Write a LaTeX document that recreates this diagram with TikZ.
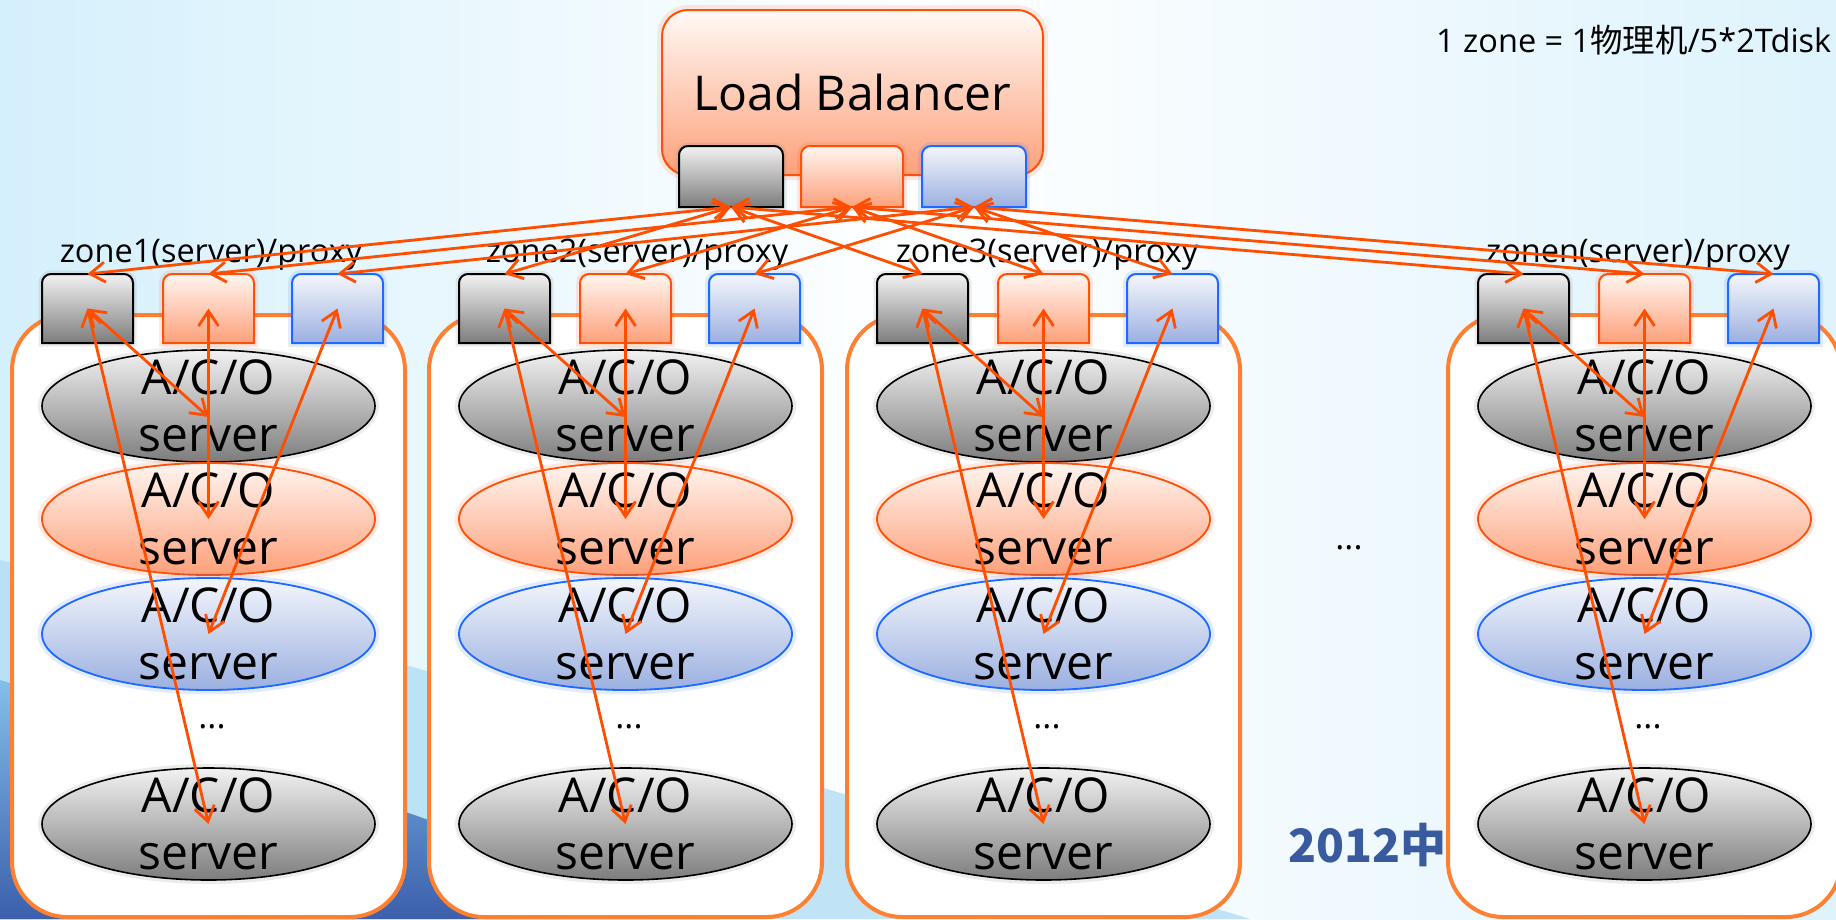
\documentclass[tikz,border=0pt]{standalone}
\usepackage{fontspec}
\setmainfont{Open Sans}
\newfontfamily\cjk{Noto Sans CJK SC}
\usetikzlibrary{arrows.meta,shapes.geometric}
\definecolor{cArrow}{RGB}{255,78,0}
\definecolor{cZone}{RGB}{255,128,48}
\definecolor{cGrayTop}{RGB}{242,242,242}
\definecolor{cGrayBot}{RGB}{125,125,125}
\definecolor{cOrTop}{RGB}{255,245,240}
\definecolor{cOrBot}{RGB}{253,160,122}
\definecolor{cOrLine}{RGB}{255,80,10}
\definecolor{cBlTop}{RGB}{244,246,252}
\definecolor{cBlBot}{RGB}{155,176,224}
\definecolor{cBlLine}{RGB}{30,105,255}
\definecolor{cBgL}{RGB}{212,240,252}
\definecolor{cBgR}{RGB}{222,243,252}
\definecolor{cWaveB}{RGB}{178,222,244}
\definecolor{cWaveA1}{RGB}{130,192,232}
\definecolor{cWaveA2}{RGB}{60,95,172}
\definecolor{cMark}{RGB}{58,90,160}

\newcommand{\mkport}[6]{%
  \node[portnode, minimum width=#4pt, minimum height=#5pt] (#1) at (#2,#3) {};
  \path[#6] ([yshift=-9pt]#1.north west) arc[start angle=180,end angle=90,radius=9pt]
    -- ([xshift=-9pt]#1.north east) arc[start angle=90,end angle=0,radius=9pt]
    -- (#1.south east) -- (#1.south west) -- cycle;
}

\tikzset{
  portnode/.style={rectangle, draw=none, inner sep=0pt, outer sep=0pt},
  pgray/.style={draw=black, line width=2pt, top color=cGrayTop, bottom color=cGrayBot,
    preaction={draw=gray, opacity=0.15, line width=7pt}},
  porange/.style={draw=cOrLine, line width=2pt, top color=cOrTop, bottom color=cOrBot,
    preaction={draw=cOrLine, opacity=0.12, line width=8pt}},
  pblue/.style={draw=cBlLine, line width=2pt, top color=cBlTop, bottom color=cBlBot,
    preaction={draw=cBlLine, opacity=0.12, line width=8pt}},
  ell/.style={ellipse, minimum width=333pt, minimum height=112pt, inner sep=0pt, outer sep=0pt},
  egray/.style={ell, draw=black, line width=1.6pt, top color=cGrayTop, bottom color=cGrayBot,
    preaction={draw=gray, opacity=0.15, line width=8pt}},
  eorange/.style={ell, draw=cOrLine, line width=1.8pt, top color=cOrTop, bottom color=cOrBot,
    preaction={draw=cOrLine, opacity=0.12, line width=9pt}},
  eblue/.style={ell, draw=cBlLine, line width=1.8pt, top color=cBlTop, bottom color=cBlBot,
    preaction={draw=cBlLine, opacity=0.12, line width=9pt}},
  acot/.style={font=\fontsize{48}{57}\selectfont, align=center, inner sep=0pt},
  zlabel/.style={font=\fontsize{32.5}{36}\selectfont, anchor=base, inner sep=0pt},
  zonebox/.style={rectangle, draw=cZone, line width=4pt, fill=white, rounded corners=55pt,
    minimum width=393pt, minimum height=602pt, inner sep=0pt},
  lbbox/.style={rectangle, draw=cOrLine, line width=2pt, top color=cOrTop!60!white,
    bottom color=cOrBot, rounded corners=26pt, minimum width=381pt, minimum height=165pt,
    font=\fontsize{48}{57}\selectfont, preaction={draw=cOrLine, opacity=0.12, line width=10pt}},
  conn/.style={draw=cArrow, line width=2.8pt, >={Straight Barb[length=15pt,width=20pt]}, <->},
  dots/.style={font=\fontsize{34}{40}\selectfont, inner sep=0pt}
}

\begin{document}
\begin{tikzpicture}[x=1pt,y=1pt]
\useasboundingbox (0,0) rectangle (1836,-919);
% background
\fill[left color=cBgL, right color=cBgR, middle color=white] (0,0) rectangle (1836,-919);
\fill[cWaveB, opacity=0.8] (0,-560) .. controls (350,-640) and (800,-780) .. (1250,-919) -- (0,-919) -- cycle;
\shade[top color=cWaveA1, bottom color=cWaveA2] (0,-680) .. controls (250,-750) and (500,-850) .. (720,-919) -- (0,-919) -- cycle;
\node[anchor=base west, inner sep=0pt, text=cMark, font=\cjk\bfseries\fontsize{46}{50}\selectfont] (mark) at (1288,-862) {2012中国};

% zones
\foreach \dx/\zz/\lx in {0/1/211,417/2/220,835/3/212,1436/n/202}{
  \node[zonebox] (zb\zz) at (208.5+\dx,-616) {};
  \node[egray] (z\zz e1) at (208.5+\dx,-406) {};
  \node[eorange] (z\zz e2) at (208.5+\dx,-519) {};
  \node[eblue] (z\zz e3) at (208.5+\dx,-634) {};
  \node[egray] (z\zz e4) at (208.5+\dx,-824) {};
  \foreach \k in {1,2,3,4}{\node[acot] (z\zz t\k) at (z\zz e\k.center) {A/C/O\\server};}
  \node[dots] (z\zz d) at (212+\dx,-727) {...};
  \mkport{z\zz g}{87.5+\dx}{-308.5}{91}{69}{pgray}
  \mkport{z\zz o}{208.5+\dx}{-308.5}{91}{69}{porange}
  \mkport{z\zz b}{337.5+\dx}{-308.5}{91}{69}{pblue}
  \node[zlabel] (z\zz l) at (\lx+\dx,-262) {zone\zz(server)/proxy};
}

\node[dots] (middots) at (1349,-548) {...};

% load balancer
\node[lbbox] (lb) at (852.5,-92.5) {Load Balancer};
\mkport{lbg}{731}{-176.5}{104}{61}{pgray}
\mkport{lbo}{852}{-176.5}{102}{61}{porange}
\mkport{lbb}{974}{-176.5}{104}{61}{pblue}

\node[anchor=base west, inner sep=0pt, font=\fontsize{32.5}{38}\selectfont] (note) at (1436,-52) {1 zone = 1{\cjk 物理机}/5*2Tdisk};

% connectors
\foreach \zz in {1,2,3,n}{
  \foreach \col in {g,o,b}{\draw[conn] (lb\col.south) -- (z\zz\col.north);}
  \draw[conn] (z\zz g.center) -- ([yshift=-11pt]z\zz e1.center);
  \draw[conn] (z\zz g.center) -- (z\zz e4.center);
  \draw[conn] (z\zz o.center) -- (z\zz e2.center);
  \draw[conn] (z\zz b.center) -- (z\zz e3.center);
}
\end{tikzpicture}
\end{document}
